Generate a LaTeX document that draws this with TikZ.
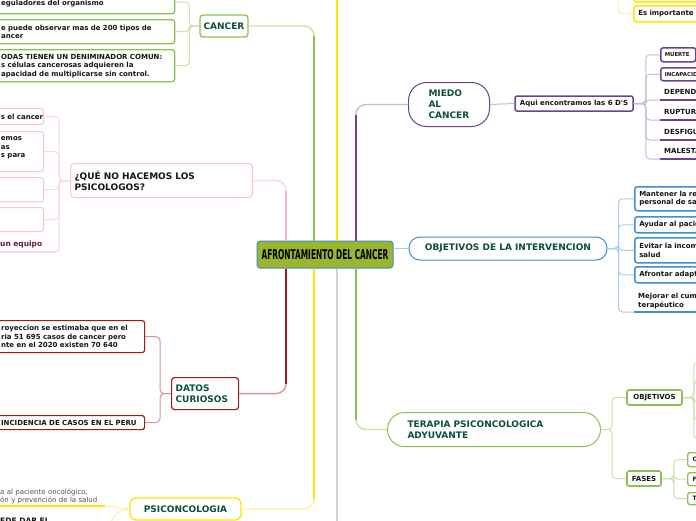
\documentclass[tikz,border=0pt]{standalone}
\usepackage{graphicx}
\usepackage{fontspec}
\setmainfont{DejaVu Sans}
\usetikzlibrary{calc}
\definecolor{dgreen}{HTML}{0B4F3B}
\definecolor{txt}{HTML}{151515}
\definecolor{grn}{HTML}{8CC152}
\definecolor{grnl}{HTML}{C8E2AA}
\definecolor{pinkT}{HTML}{F6B3C6}
\definecolor{pinkb}{HTML}{F8C4D3}
\definecolor{pinkl}{HTML}{FBD6E1}
\definecolor{dred}{HTML}{9B1C1C}
\definecolor{dredl}{HTML}{D99494}
\definecolor{maroon}{HTML}{6B1A2C}
\definecolor{yel}{HTML}{FFE500}
\definecolor{yell}{HTML}{FFF0A0}
\definecolor{pur}{HTML}{6A4391}
\definecolor{purl}{HTML}{C9B8DB}
\definecolor{blu}{HTML}{3D8FD6}
\definecolor{blul}{HTML}{A9CDEF}
\definecolor{gry}{HTML}{D2D2D2}
\definecolor{ctrfill}{HTML}{9CB52E}
\definecolor{gtxt}{HTML}{505050}
\begin{document}
\begin{tikzpicture}[x=1pt,y=-1pt,
  base/.style={font=\fontsize{7}{8.5}\selectfont\bfseries, text=txt, align=left},
  ttl/.style={font=\fontsize{9}{11}\selectfont\bfseries, text=dgreen, align=left},
  cbox/.style={base, draw=#1, fill=white, line width=1.3pt, rounded corners=2.5pt, inner ysep=0pt, anchor=north west},
  ulnode/.style={base, anchor=south west},
  conn/.style={draw=#1, line width=1pt, rounded corners=4pt},
  trunkthin/.style={draw=#1, line width=1.4pt, rounded corners=10pt},
  trunk/.style={draw=#1, line width=2.6pt},
  uline/.style={draw=#1, line width=1.4pt},
]
\useasboundingbox (0,0) rectangle (696,520);
\clip (0,0) rectangle (696,520);
\fill[white] (0,0) rectangle (696,520);

% central
\node[draw=blu, fill=ctrfill, line width=1pt, rounded corners=3pt, minimum width=136pt, minimum height=27pt, inner sep=0pt] (ctr) at (325,254.5) {\scalebox{0.55}[1]{\fontsize{13.5}{14}\selectfont\bfseries AFRONTAMIENTO DEL CANCER}};

% CANCER
\node[ttl, draw=grn, fill=white, line width=1.3pt, rounded corners=3pt, minimum width=48pt, minimum height=22pt, inner sep=0pt] (cancer) at (224,26) {CANCER};
\node[cbox=grn, inner xsep=3.5pt, text width=170pt, minimum height=23pt] (c1) at (-3,-10) {\mbox{}\\eguladores del organismo};
\node[cbox=grn, inner xsep=3.5pt, text width=170pt, minimum height=24pt] (c2) at (-3,19) {e puede observar mas de 200 tipos de\\ancer};
\node[cbox=grn, inner xsep=3.5pt, text width=170pt, minimum height=32pt] (c3) at (-3,49) {ODAS TIENEN UN DENIMINADOR COMUN:\\s células cancerosas adquieren la\\apacidad de multiplicarse sin control.};
\draw[conn=grnl] (cancer.west) -- ++(-10,0) |- (c1.east);
\draw[conn=grnl] (cancer.west) -- ++(-10,0) |- (c2.east);
\draw[conn=grnl] (cancer.west) -- ++(-10,0) |- (c3.east);

% QUE NO HACEMOS
\node[ttl, text=txt, draw=pinkb, fill=white, line width=1pt, rounded corners=4pt, anchor=north west, inner xsep=4pt, inner ysep=0pt, text width=174pt, minimum height=34pt] (qne) at (70,163) {¿QUÉ NO HACEMOS LOS\\PSICOLOGOS?};
\node[cbox=pinkb, line width=1pt, inner xsep=3.5pt, text width=39pt, minimum height=16pt] (p1) at (-3,108) {\mbox{s el cancer}};
\node[cbox=pinkb, line width=1pt, inner xsep=3.5pt, text width=39pt, minimum height=40pt] (p2) at (-3,131) {emos\\as\\s para\\\mbox{}};
\node[cbox=pinkb, line width=1pt, inner xsep=3.5pt, text width=39pt, minimum height=24pt] (p3) at (-3,177) {};
\node[cbox=pinkb, line width=1pt, inner xsep=3.5pt, text width=39pt, minimum height=24pt] (p4) at (-3,207) {};
\node[ulnode, text=maroon, font=\fontsize{7.5}{9}\selectfont\bfseries, inner xsep=3pt, inner ysep=3.5pt, text width=52pt] (p5) at (-3,252) {un equipo};
\draw[uline=pinkl] (p5.south west) -- (p5.south east);
\draw[conn=pinkl] (qne.west) -- ++(-11,0) |- (p1.east);
\draw[conn=pinkl] (qne.west) -- ++(-11,0) |- (p2.east);
\draw[conn=pinkl] (qne.west) -- ++(-11,0) |- (p3.east);
\draw[conn=pinkl] (qne.west) -- ++(-11,0) |- (p4.east);
\draw[conn=pinkl] (qne.west) -- ++(-11,0) |- (p5.south east);

% DATOS CURIOSOS
\node[ttl, draw=dred, fill=white, line width=1.2pt, rounded corners=3pt, anchor=north west, inner xsep=4pt, inner ysep=0pt, text width=59pt, minimum height=32pt] (datos) at (171,377) {DATOS\\CURIOSOS};
\node[cbox=dred, line width=1.2pt, inner xsep=3.5pt, text width=140pt, minimum height=32pt] (d1) at (-3,320) {royeccion se estimaba que en el\\ria 51 695 casos de cancer pero\\nte en el 2020 existen 70 640};
\node[cbox=dred, line width=1.2pt, inner xsep=3.5pt, text width=140pt, minimum height=14pt] (d2) at (-3,415) {\mbox{INCIDENCIA DE CASOS EN EL PERU}};
\draw[conn=dredl] (datos.west) -- ++(-11,0) |- (d1.east);
\draw[conn=dredl] (datos.west) -- ++(-11,0) |- (d2.east);

% PSICONCOLOGIA
\node[ttl, draw=yel, fill=white, line width=1.3pt, rounded corners=6pt, minimum width=111pt, minimum height=22pt, inner sep=0pt] (psi) at (185.5,509) {PSICONCOLOGIA};
\node[ulnode, font=\fontsize{7}{8.5}\selectfont, text=gtxt, inner xsep=3pt, inner ysep=1.8pt, text width=102pt] (s1) at (-3,506) {a al paciente oncológico,\\ón y prevención de la salud};
\draw[uline=yel] (s1.south west) -- (s1.south east);
\draw[conn=yell] (psi.west) to[out=180,in=0] (s1.south east);
\node[base, anchor=base west, inner sep=0pt, font=\fontsize{7.5}{9}\selectfont\bfseries] (s2) at (0,523) {EDE DAR EL};
\coordinate (s2c) at (106,536);
\draw[conn=yell] (psi.west) to[out=180,in=75] (s2c);

% top right yellow
\node[draw=yel, fill=white, line width=1.5pt, rounded corners=2.5pt, anchor=north west, minimum width=80pt, minimum height=22pt, inner sep=0pt] (ytb) at (633,-21) {};
\node[cbox=yel, line width=1.5pt, inner xsep=4.5pt, text width=70pt, minimum height=16pt] (esimp) at (633,5) {\mbox{Es importante}};
\coordinate (yc0) at (618,-12);
\draw[conn=yell] (yc0) |- (esimp.west);

% MIEDO AL CANCER
\node[ttl, draw=pur, fill=white, line width=1pt, rounded corners=18pt, anchor=north west, inner xsep=20pt, inner ysep=0pt, text width=41pt, minimum height=44pt] (miedo) at (408,82) {MIEDO\\AL\\CANCER};
\node[base, draw=pur, fill=white, line width=1.5pt, rounded corners=2pt, minimum width=118pt, minimum height=15pt, inner sep=0pt, align=center] (aqui) at (574,103.5) {Aqui encontramos las 6 D\textquotesingle S};
\draw[conn=purl] (miedo.east) -- (aqui.west);
\node[cbox=pur, line width=1.5pt, font=\fontsize{5.4}{6}\selectfont\bfseries, inner xsep=4pt, text width=27pt, minimum height=14pt] (m1) at (660,47) {MUERTE};
\node[cbox=pur, line width=1.5pt, font=\fontsize{5.4}{6}\selectfont\bfseries, inner xsep=4pt, text width=60pt, minimum height=13pt] (m2) at (660,67) {\mbox{INCAPACIDAD}};
\node[ulnode, inner xsep=4pt, inner ysep=5pt, text depth=0pt, text width=60pt] (m3) at (660,100) {\mbox{DEPENDENCIA}};
\node[ulnode, inner xsep=4pt, inner ysep=5pt, text depth=0pt, text width=60pt] (m4) at (660,120) {\mbox{RUPTURA}};
\node[ulnode, inner xsep=4pt, inner ysep=5pt, text depth=0pt, text width=60pt] (m5) at (660,140) {\mbox{DESFIGURACION}};
\node[ulnode, inner xsep=4pt, inner ysep=5pt, text depth=0pt, text width=60pt] (m6) at (660,159) {\mbox{MALESTAR}};
\foreach \m in {m3,m4,m5,m6} \draw[uline=pur] (\m.south west) -- (\m.south east);
\draw[conn=purl] (aqui.east) -- ++(12,0) |- (m1.west);
\draw[conn=purl] (aqui.east) -- ++(12,0) |- (m2.west);
\draw[conn=purl] (aqui.east) -- ++(12,0) |- (m3.south west);
\draw[conn=purl] (aqui.east) -- ++(12,0) |- (m4.south west);
\draw[conn=purl] (aqui.east) -- ++(12,0) |- (m5.south west);
\draw[conn=purl] (aqui.east) -- ++(12,0) |- (m6.south west);

% OBJETIVOS DE LA INTERVENCION
\node[ttl, draw=blu, fill=white, line width=1pt, rounded corners=11pt, minimum width=198pt, minimum height=23pt, inner sep=0pt] (obj) at (508,248.5) {OBJETIVOS DE LA INTERVENCION};
\node[cbox=blu, line width=1.5pt, inner xsep=4.5pt, text width=70pt, minimum height=24pt] (o1) at (634,186) {\mbox{Mantener la re}\\\mbox{personal de sa}};
\node[cbox=blu, line width=1.5pt, inner xsep=4.5pt, text width=70pt, minimum height=16pt] (o2) at (634,216) {\mbox{Ayudar al paciente}};
\node[cbox=blu, line width=1.5pt, inner xsep=4.5pt, text width=70pt, minimum height=25pt] (o3) at (634,237) {\mbox{Evitar la incom}\\salud};
\node[cbox=blu, line width=1.5pt, inner xsep=4.5pt, text width=70pt, minimum height=16pt] (o4) at (634,266) {\mbox{Afrontar adapt}};
\node[ulnode, inner xsep=4pt, inner ysep=2.9pt, text width=70pt] (o5) at (634,312) {\mbox{Mejorar el cum}\\terapéutico};
\draw[uline=blu] (o5.south west) -- (o5.south east);
\draw[conn=blul] (obj.east) -- ++(11,0) |- (o1.west);
\draw[conn=blul] (obj.east) -- ++(11,0) |- (o2.west);
\draw[conn=blul] (obj.east) -- ++(11,0) |- (o3.west);
\draw[conn=blul] (obj.east) -- ++(11,0) |- (o4.west);
\draw[conn=blul] (obj.east) -- ++(11,0) |- (o5.south west);

% TERAPIA
\node[ttl, draw=grn, fill=white, line width=1pt, rounded corners=17pt, anchor=north west, inner xsep=20pt, inner ysep=0pt, text width=173pt, minimum height=34pt] (ter) at (387,412) {TERAPIA PSICONCOLOGICA\\ADYUVANTE};
\node[base, draw=grn, fill=white, line width=1.6pt, rounded corners=2pt, minimum width=55pt, minimum height=15pt, inner sep=0pt] (obj2) at (654.5,397.5) {OBJETIVOS};
\node[base, draw=grn, fill=white, line width=1.6pt, rounded corners=2pt, minimum width=34pt, minimum height=15pt, inner sep=0pt] (fases) at (644,478.5) {FASES};
\draw[conn=grnl] (ter.east) -- ++(11,0) |- (obj2.west);
\draw[conn=grnl] (ter.east) -- ++(11,0) |- (fases.west);
\coordinate (oc1) at (706,362);
\coordinate (oc2) at (706,381);
\coordinate (oc3) at (706,402);
\coordinate (oc4) at (706,420);
\coordinate (oc5) at (706,439);
\foreach \c in {oc1,oc2,oc3,oc4,oc5} \draw[conn=grnl] (obj2.east) -- ++(11,0) |- (\c);
\node[cbox=grn, font=\fontsize{6}{7}\selectfont\bfseries, inner xsep=5pt, text width=20pt, minimum height=14pt] (f1) at (687,452) {C};
\node[cbox=grn, font=\fontsize{6}{7}\selectfont\bfseries, inner xsep=5pt, text width=20pt, minimum height=13pt] (f2) at (687,472) {F};
\node[cbox=grn, font=\fontsize{6}{7}\selectfont\bfseries, inner xsep=5pt, text width=20pt, minimum height=12pt] (f3) at (687,492) {T};
\draw[conn=grnl] (fases.east) -- ++(12,0) |- (f1.west);
\draw[conn=grnl] (fases.east) -- ++(12,0) |- (f2.west);
\draw[conn=grnl] (fases.east) -- ++(12,0) |- (f3.west);

% trunks
\coordinate (xP) at (286,0);
\coordinate (xG) at (314,0);
\coordinate (xY) at (337,0);
\coordinate (xU) at (356,0);
\coordinate (yTop) at (337,-5);
\coordinate (gBot) at (337,525);
\draw[trunkthin=pinkl] (xP |- ctr.north) |- (qne.east);
\draw[trunk=pinkT] (xP |- ctr.north) -- ($(xP |- qne.east)+(0,10)$);
\draw[trunkthin=grnl] (xG |- ctr.north) |- (cancer.east);
\draw[trunk=grn] (xG |- ctr.north) -- ($(xG |- cancer.east)+(0,10)$);
\draw[trunk=yel] (xY |- ctr.north) -- (yTop);
\draw[trunkthin=purl] (xU |- ctr.north) |- (miedo.west);
\draw[trunk=pur] (xU |- ctr.north) -- ($(xU |- miedo.west)+(0,10)$);
\draw[trunkthin=dredl] (xP |- ctr.south) |- (datos.east);
\draw[trunk=dred] (xP |- ctr.south) -- ($(xP |- datos.east)+(0,-10)$);
\draw[trunkthin=yell] (xG |- ctr.south) |- (psi.east);
\draw[trunk=yel] (xG |- ctr.south) -- ($(xG |- psi.east)+(0,-10)$);
\draw[trunk=gry] (xY |- ctr.south) -- (gBot);
\draw[trunkthin=grnl] (xU |- ctr.south) |- (ter.west);
\draw[trunk=grn] (xU |- ctr.south) -- ($(xU |- ter.west)+(0,-10)$);
\draw[line width=1.5pt, blul] (ctr.east |- obj.west) -- (obj.west);
\end{tikzpicture}
\end{document}
